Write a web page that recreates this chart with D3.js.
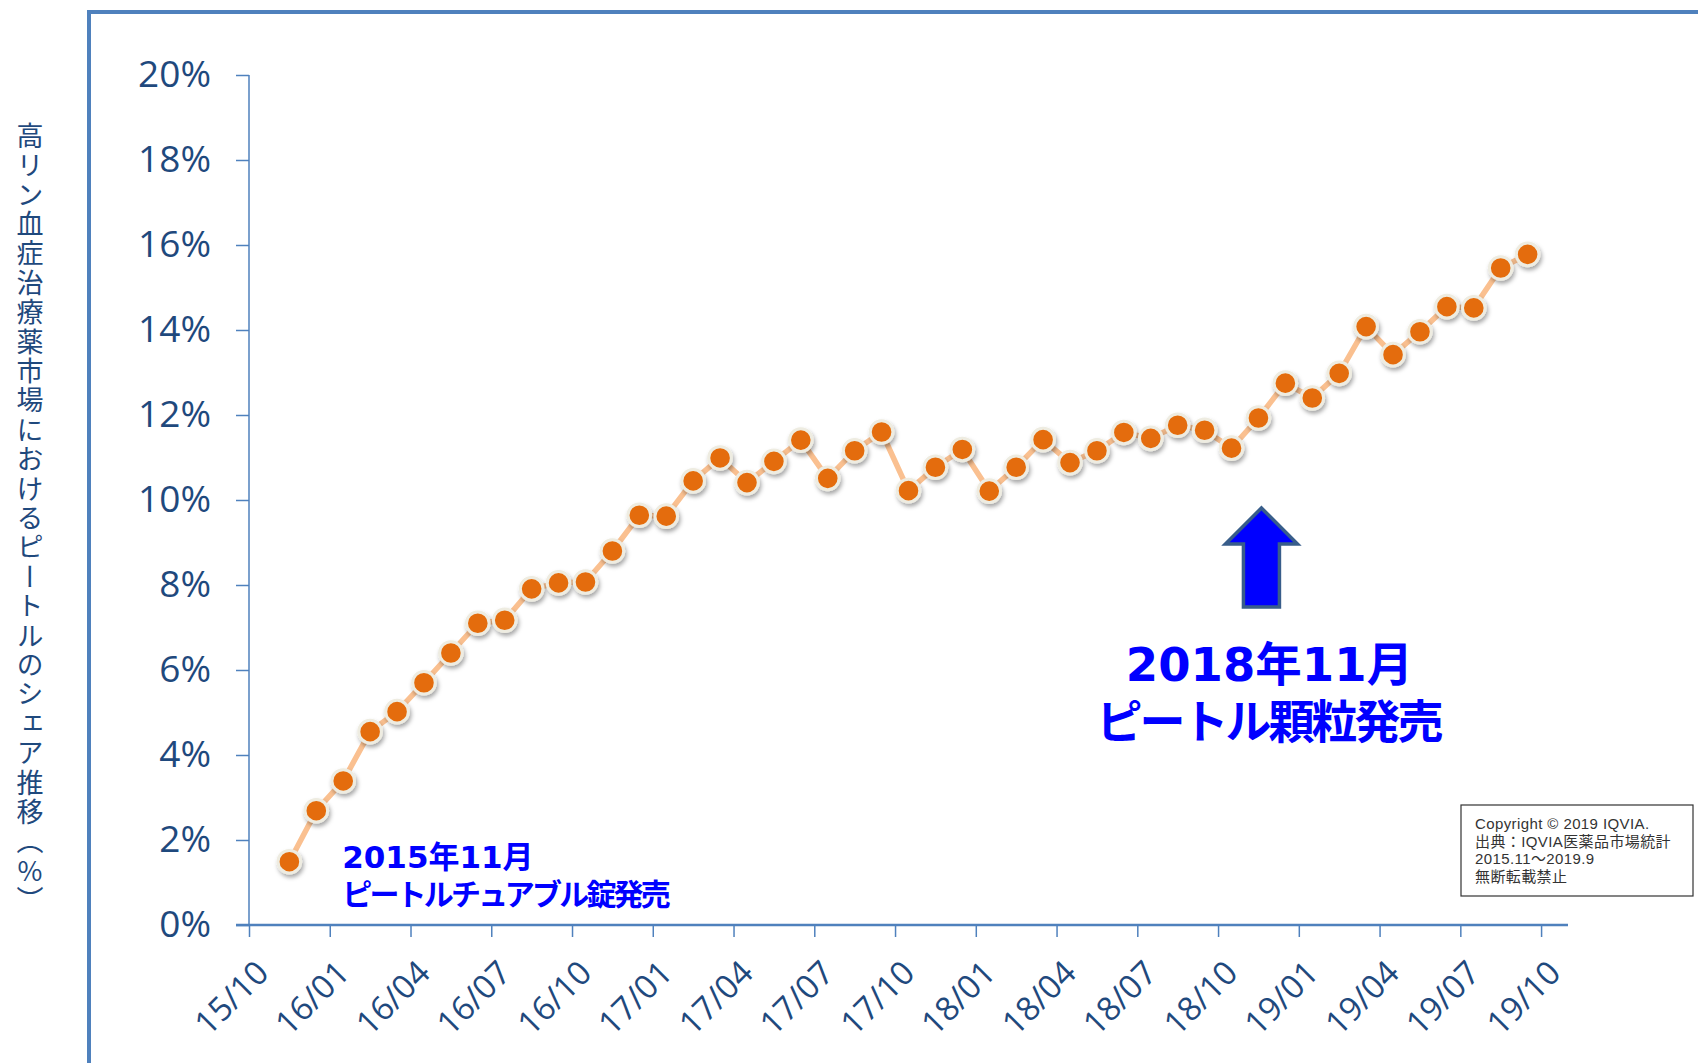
<!DOCTYPE html>
<html>
<head>
<meta charset="utf-8">
<script src="https://cdn.jsdelivr.net/npm/d3@7/dist/d3.min.js"></script>
<style>
  body { margin: 0; background: #fff; }
  svg { display: block; }
  .y-axis text, .x-axis text { font-family: "Open Sans", sans-serif; fill: #1f497d; }
  .axis-title { font-family: "Noto Sans CJK JP", sans-serif; fill: #1f497d; }
  .note { font-family: "DejaVu Sans", "Noto Sans CJK JP", sans-serif; font-weight: bold; fill: #0000ff; }
  .copyright text { font-family: "Liberation Sans", "Noto Sans CJK JP", sans-serif; fill: #333; }
</style>
</head>
<body>
<div id="chart-area"></div>
<script>

// months with a share value (2015/11 .. 2019/09)
var categories = [
  "2015/11","2015/12",
  "2016/01","2016/02","2016/03","2016/04","2016/05","2016/06","2016/07","2016/08","2016/09","2016/10","2016/11","2016/12",
  "2017/01","2017/02","2017/03","2017/04","2017/05","2017/06","2017/07","2017/08","2017/09","2017/10","2017/11","2017/12",
  "2018/01","2018/02","2018/03","2018/04","2018/05","2018/06","2018/07","2018/08","2018/09","2018/10","2018/11","2018/12",
  "2019/01","2019/02","2019/03","2019/04","2019/05","2019/06","2019/07","2019/08","2019/09"
];

// ピートル share (%)
var shareValues = [
  1.49, 2.69,
  3.39, 4.55, 5.02, 5.70, 6.40, 7.10, 7.17, 7.91, 8.05, 8.07, 8.80, 9.64,
  9.62, 10.45, 10.99, 10.41, 10.91, 11.41, 10.51, 11.16, 11.60, 10.22, 10.77, 11.19,
  10.21, 10.77, 11.42, 10.88, 11.16, 11.59, 11.45, 11.76, 11.64, 11.22, 11.93, 12.75,
  12.40, 12.98, 14.08, 13.42, 13.96, 14.55, 14.52, 15.46, 15.78
];

var xTickLabels = ["15/10","16/01","16/04","16/07","16/10","17/01","17/04","17/07","17/10",
  "18/01","18/04","18/07","18/10","19/01","19/04","19/07","19/10"];

var yTicks = [0, 2, 4, 6, 8, 10, 12, 14, 16, 18, 20];

var yTitle = "高リン血症治療薬市場におけるピートルのシェア推移（%）";
var noteTablet = ["2015年11月", "ピートルチュアブル錠発売"];
var noteGranule = ["2018年11月", "ピートル顆粒発売"];
var copyrightLines = ["Copyright ©  2019 IQVIA.", "出典：IQVIA医薬品市場統計", "2015.11～2019.9", "無断転載禁止"];


// month index counted from 2015/10 (accepts "2016/04" or "16/04")
function monthIndex(s) {
  var p = s.split("/");
  var yy = +p[0] % 100;
  return (yy - 15) * 12 + (+p[1] - 10);
}

ShareChart = function(_parentElement){
  var vis = this;
  vis.parentElement = _parentElement;
  vis.data = categories.map(function(c, i){
    return { month: c, value: shareValues[i] };
  });
  vis.initVis();
};

ShareChart.prototype.initVis = function(){
  var vis = this;

  vis.svg = d3.select("#" + vis.parentElement).append("svg")
    .attr("width", 1698)
    .attr("height", 1063);

  var defs = vis.svg.append("defs");
  var shadow = defs.append("filter")
    .attr("id", "shadow")
    .attr("x", "-50%").attr("y", "-50%")
    .attr("width", "200%").attr("height", "200%");
  shadow.append("feDropShadow")
    .attr("dx", 1.5).attr("dy", 3)
    .attr("stdDeviation", 2)
    .attr("flood-color", "#000")
    .attr("flood-opacity", 0.35);

  // outer frame (runs off the page on the right and bottom)
  vis.svg.append("path")
    .attr("d", "M89,1063V12H1698")
    .attr("fill", "none")
    .attr("stroke", "#4f81bd")
    .attr("stroke-width", 4);

  vis.x = d3.scaleLinear().domain([0, 49]).range([249, 1568]);
  vis.y = d3.scaleLinear().domain([0, 20]).range([925, 75]);

  vis.updateVis();
};

ShareChart.prototype.updateVis = function(){
  var vis = this;

  // y axis
  var yAxis = d3.axisLeft(vis.y)
    .tickValues(yTicks)
    .tickSize(13)
    .tickPadding(25)
    .tickFormat(function(d){ return d + "%"; });

  var yg = vis.svg.append("g")
    .attr("class", "y-axis")
    .attr("transform", "translate(" + vis.x(0) + ",0)")
    .call(yAxis);
  yg.select(".domain").attr("stroke", "#4f81bd").attr("stroke-width", 1.5)
    .attr("d", "M0," + vis.y(20) + "V" + vis.y(0));
  yg.selectAll(".tick line").attr("stroke", "#4f81bd").attr("stroke-width", 1.5);
  yg.selectAll("text").attr("font-size", 37).attr("dy", "0.32em");

  // x axis
  var xAxis = d3.axisBottom(vis.x)
    .tickValues(xTickLabels.map(monthIndex))
    .tickSize(12)
    .tickFormat(function(d, i){ return xTickLabels[i]; });

  var xg = vis.svg.append("g")
    .attr("class", "x-axis")
    .attr("transform", "translate(0," + vis.y(0) + ")")
    .call(xAxis);
  xg.select(".domain").attr("stroke", "#4f81bd").attr("stroke-width", 2.5)
    .attr("d", "M" + (vis.x(0) - 13) + ",0H" + vis.x(49));
  xg.selectAll(".tick line").attr("stroke", "#4f81bd").attr("stroke-width", 1.5);
  xg.selectAll("text")
    .attr("font-size", 33)
    .attr("x", 0).attr("y", 0).attr("dy", 0)
    .attr("text-anchor", "end")
    .attr("transform", "translate(21,50) rotate(-45)");

  // y title, vertical writing
  vis.svg.append("text")
    .attr("class", "axis-title")
    .attr("x", 30)
    .attr("y", 122)
    .attr("font-size", 27)
    .attr("letter-spacing", 2.4)
    .style("writing-mode", "vertical-rl")
    .style("text-orientation", "upright")
    .text(yTitle);

  // line
  var line = d3.line()
    .x(function(d){ return vis.x(monthIndex(d.month) + 0.5); })
    .y(function(d){ return vis.y(d.value); });

  vis.svg.append("path")
    .datum(vis.data)
    .attr("d", line)
    .attr("fill", "none")
    .attr("stroke", "#fac090")
    .attr("stroke-width", 5.5)
    .attr("stroke-linejoin", "round");

  vis.svg.selectAll(".dot")
    .data(vis.data)
    .enter().append("circle")
    .attr("class", "dot")
    .attr("cx", function(d){ return vis.x(monthIndex(d.month) + 0.5); })
    .attr("cy", function(d){ return vis.y(d.value); })
    .attr("r", 11.3)
    .attr("fill", "#e46c0a")
    .attr("stroke", "#eeece1")
    .attr("stroke-width", 3)
    .attr("filter", "url(#shadow)");

  // 2015/11 note
  var n1x = vis.x(monthIndex("2015/11") + 2.5);
  vis.svg.append("text").attr("class", "note")
    .attr("x", n1x - 1).attr("y", 868)
    .attr("font-size", 31)
    .text(noteTablet[0]);
  vis.svg.append("text").attr("class", "note")
    .attr("x", n1x - 1).attr("y", 905)
    .attr("font-size", 30)
    .attr("letter-spacing", -2.8)
    .text(noteTablet[1]);

  // 2018/11 arrow + note
  var ax = vis.x(monthIndex("2018/11") + 0.5) + 3;
  var arrowPts = [[0, 508], [36, 544], [18, 544], [18, 607], [-18, 607], [-18, 544], [-36, 544]];
  vis.svg.append("path")
    .attr("d", "M" + arrowPts.map(function(p){ return (ax + p[0]) + "," + p[1]; }).join("L") + "Z")
    .attr("fill", "#0000ff")
    .attr("stroke", "#385d8a")
    .attr("stroke-width", 3.5)
    .attr("stroke-linejoin", "miter");

  vis.svg.append("text").attr("class", "note")
    .attr("x", ax + 8).attr("y", 681)
    .attr("text-anchor", "middle")
    .attr("font-size", 46.5)
    .text(noteGranule[0]);
  vis.svg.append("text").attr("class", "note")
    .attr("x", ax + 7).attr("y", 738)
    .attr("text-anchor", "middle")
    .attr("font-size", 46)
    .attr("letter-spacing", -3)
    .text(noteGranule[1]);

  // copyright box
  var cg = vis.svg.append("g").attr("class", "copyright");
  cg.append("rect")
    .attr("x", 1461).attr("y", 805)
    .attr("width", 232).attr("height", 91)
    .attr("fill", "#fff")
    .attr("stroke", "#333")
    .attr("stroke-width", 1.2);
  cg.selectAll("text")
    .data(copyrightLines)
    .enter().append("text")
    .attr("x", 1475)
    .attr("y", function(d, i){ return 829 + i * 17.7; })
    .attr("font-size", 15)
    .attr("letter-spacing", 0.4)
    .text(function(d){ return d; });
};

var chart = new ShareChart("chart-area");

</script>
</body>
</html>
